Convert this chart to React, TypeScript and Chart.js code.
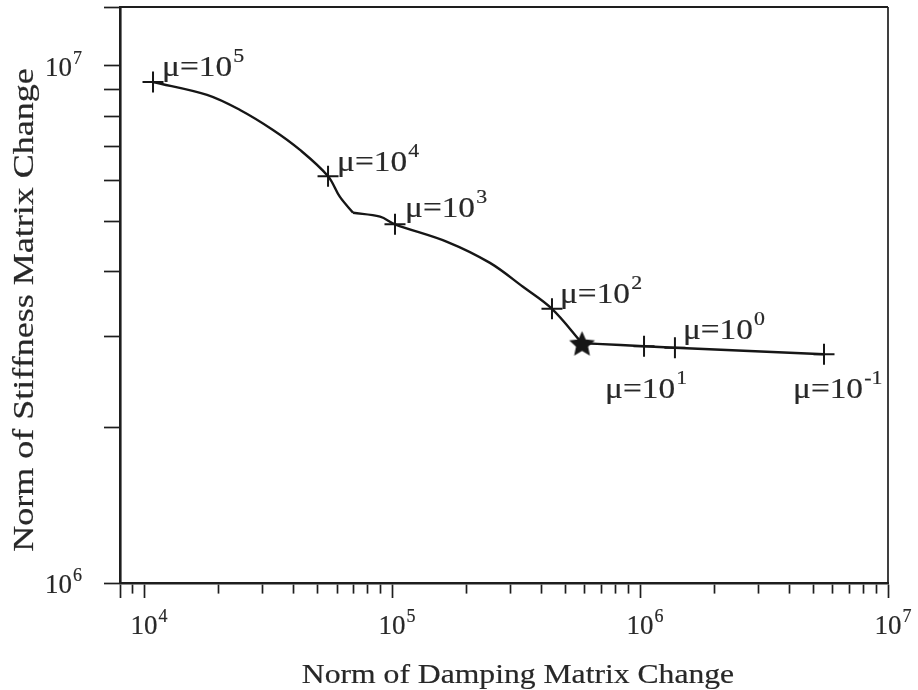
import React, { useEffect, useRef } from 'react';
import { Chart, registerables } from 'chart.js';

Chart.register(...registerables);

// ---- data ----
const curveX = [10870, 17950, 24380, 33110, 42560, 55210, 61660, 69660, 89510, 102800, 166700, 248300, 337300, 441600, 583600, 671400, 1038000, 1383000, 5520000];
const curveY = [9.31e6, 8.79e6, 8.22e6, 7.52e6, 6.88e6, 6.12e6, 5.58e6, 5.2e6, 5.11e6, 4.94e6, 4.57e6, 4.16e6, 3.74e6, 3.39e6, 2.91e6, 2.9e6, 2.87e6, 2.85e6, 2.77e6];
// indices where the curve has a corner (kink at ~7e4, optimum star)
const curveCorners = [7, 14];

const muX = [10870, 55210, 102800, 441600, 1038000, 1383000, 5520000];
const muY = [9.31e6, 6.12e6, 4.94e6, 3.39e6, 2.87e6, 2.85e6, 2.77e6];
const muExponents = ['5', '4', '3', '2', '1', '0', '-1'];

const optimumX = [583600];
const optimumY = [2.91e6];

const xMin = 8000;
const xMax = 1e7;
const yMin = 1e6;
const yMax = 1.3e7;

const xTickValues = [8e3, 9e3, 1e4, 2e4, 3e4, 4e4, 5e4, 6e4, 7e4, 8e4, 9e4, 1e5, 2e5, 3e5, 4e5, 5e5, 6e5, 7e5, 8e5, 9e5, 1e6, 2e6, 3e6, 4e6, 5e6, 6e6, 7e6, 8e6, 9e6, 1e7];
const yTickValues = [1e6, 2e6, 3e6, 4e6, 5e6, 6e6, 7e6, 8e6, 9e6, 1e7, 1.3e7];
const xLabelValues = [1e4, 1e5, 1e6, 1e7];
const yLabelValues = [1e6, 1e7];

const xTitle = 'Norm of Damping Matrix Change';
const yTitle = 'Norm of Stiffness Matrix Change';

// ---- styling ----
const LINE = '#161616';
const FRAME = '#1e1e1e';
const TEXT = '#282828';
const FONT = '"Liberation Serif", "Times New Roman", serif';
const TEXT_STROKE = 0.2;

// label offsets (px) from each μ marker: [dx to text start, dy to baseline]
const muLabelOffsets = [[9, -6], [9, -5], [10, -7], [8, -6], [-39, 52], [8, -9], [-31, 44]];

function isMajor(v: number) {
  const l = Math.log10(v);
  return Math.abs(l - Math.round(l)) < 1e-9;
}

function makeStar(r: number) {
  const c = document.createElement('canvas');
  const s = Math.ceil(2 * r + 2);
  c.width = s;
  c.height = s;
  const g = c.getContext('2d') as CanvasRenderingContext2D;
  g.fillStyle = LINE;
  g.beginPath();
  for (let i = 0; i < 10; i++) {
    const rad = i % 2 === 0 ? r : r * 0.47;
    const a = -Math.PI / 2 + (i * Math.PI) / 5;
    g.lineTo(s / 2 + rad * Math.cos(a), s / 2 + 1.5 + rad * Math.sin(a));
  }
  g.closePath();
  g.fill();
  return c;
}

type PowOpts = { base: string; size: number; sup: number; rise: number; sx: number; gap: number };

function powWidth(ctx: CanvasRenderingContext2D, o: PowOpts) {
  ctx.font = `${o.size}px ${FONT}`;
  return ctx.measureText(o.base).width * o.sx;
}

function fillBold(ctx: CanvasRenderingContext2D, s: string, x: number, y: number) {
  ctx.fillText(s, x, y);
  ctx.strokeText(s, x, y);
}

function drawPow(ctx: CanvasRenderingContext2D, x: number, y: number, exp: string, o: PowOpts) {
  ctx.save();
  ctx.translate(x, y);
  ctx.scale(o.sx, 1);
  ctx.fillStyle = TEXT;
  ctx.strokeStyle = TEXT;
  ctx.lineWidth = TEXT_STROKE;
  ctx.textAlign = 'left';
  ctx.textBaseline = 'alphabetic';
  ctx.font = `${o.size}px ${FONT}`;
  fillBold(ctx, o.base, 0, 0);
  const w = ctx.measureText(o.base).width;
  ctx.font = `${o.sup}px ${FONT}`;
  fillBold(ctx, exp, w + o.gap, -o.rise);
  ctx.restore();
}

const tickLabel: PowOpts = { base: '10', size: 27, sup: 18, rise: 12, sx: 1.0, gap: 1 };
const muLabel: PowOpts = { base: 'μ=10', size: 29, sup: 19, rise: 14, sx: 1.15, gap: 1 };

const annotations = {
  id: 'annotations',
  afterDraw(chart: any) {
    const { ctx, chartArea: ca, scales } = chart;
    const xs = scales.x;
    const ys = scales.y;
    ctx.save();

    // top and right frame
    const top = ys.getPixelForValue(yMax);
    const right = xs.getPixelForValue(xMax);
    ctx.strokeStyle = FRAME;
    ctx.lineWidth = 2;
    ctx.beginPath();
    ctx.moveTo(ca.left, top);
    ctx.lineTo(right, top);
    ctx.stroke();
    ctx.lineWidth = 1.7;
    ctx.beginPath();
    ctx.moveTo(right, top);
    ctx.lineTo(right, ca.bottom);
    ctx.stroke();

    // x decade labels
    xLabelValues.forEach((v) => {
      const px = xs.getPixelForValue(v);
      const w = powWidth(ctx, tickLabel);
      drawPow(ctx, px - w / 2, ca.bottom + 51, String(Math.round(Math.log10(v))), tickLabel);
    });
    // y decade labels
    yLabelValues.forEach((v) => {
      const py = ys.getPixelForValue(v);
      const w = powWidth(ctx, tickLabel);
      drawPow(ctx, ca.left - 48 - w, py + 10, String(Math.round(Math.log10(v))), tickLabel);
    });

    // axis titles
    ctx.fillStyle = TEXT;
    ctx.strokeStyle = TEXT;
    ctx.lineWidth = TEXT_STROKE;
    ctx.textBaseline = 'alphabetic';
    ctx.textAlign = 'center';
    ctx.save();
    ctx.translate((ca.left + ca.right) / 2 + 14, ca.bottom + 100);
    ctx.scale(1.13, 1);
    ctx.font = `28px ${FONT}`;
    fillBold(ctx, xTitle, 0, 0);
    ctx.restore();

    ctx.save();
    ctx.translate(33, (ca.top + ca.bottom) / 2 + 15);
    ctx.rotate(-Math.PI / 2);
    ctx.scale(1.2, 1);
    ctx.font = `30px ${FONT}`;
    fillBold(ctx, yTitle, 0, 0);
    ctx.restore();

    // μ labels
    muX.forEach((v, i) => {
      const px = xs.getPixelForValue(v);
      const py = ys.getPixelForValue(muY[i]);
      const [dx, dy] = muLabelOffsets[i];
      drawPow(ctx, px + dx, py + dy, muExponents[i], muLabel);
    });

    ctx.restore();
  },
};

function curveSegments() {
  const cuts = [0, ...curveCorners, curveX.length - 1];
  const segs: { x: number; y: number }[][] = [];
  for (let k = 0; k < cuts.length - 1; k++) {
    const seg: { x: number; y: number }[] = [];
    for (let i = cuts[k]; i <= cuts[k + 1]; i++) seg.push({ x: curveX[i], y: curveY[i] });
    segs.push(seg);
  }
  return segs;
}

export default function App() {
  const ref = useRef<HTMLCanvasElement | null>(null);

  useEffect(() => {
    if (!ref.current) return;
    const star = makeStar(13.5);
    const lineSets = curveSegments().map((seg, k) => ({
      label: 'L-curve ' + k,
      data: seg,
      showLine: true,
      borderColor: LINE,
      borderWidth: 2.4,
      pointRadius: 0,
      tension: 0.35,
      fill: false,
      clip: false,
      order: 3,
    }));
    const chart = new Chart(ref.current, {
      type: 'scatter',
      data: {
        datasets: [
          ...(lineSets as any[]),
          {
            label: 'mu',
            data: muX.map((x, i) => ({ x, y: muY[i] })),
            showLine: false,
            pointStyle: 'cross',
            pointRadius: 10.5,
            pointBorderColor: LINE,
            pointBorderWidth: 2,
            borderColor: LINE,
            clip: false,
            order: 2,
          } as any,
          {
            label: 'optimum',
            data: optimumX.map((x, i) => ({ x, y: optimumY[i] })),
            showLine: false,
            pointStyle: star,
            pointRadius: 13.5,
            clip: false,
            order: 1,
          } as any,
        ],
      },
      options: {
        animation: false,
        responsive: false,
        events: [],
        layout: { autoPadding: false, padding: { top: 7, right: 30, left: 0, bottom: 0 } },
        plugins: { legend: { display: false }, tooltip: { enabled: false } },
        scales: {
          x: {
            type: 'logarithmic',
            min: xMin,
            max: xMax,
            afterBuildTicks: (s: any) => {
              s.ticks = xTickValues.map((value) => ({ value }));
            },
            afterFit: (s: any) => {
              s.height = 107;
            },
            ticks: { display: false },
            grid: {
              display: true,
              drawOnChartArea: false,
              drawTicks: true,
              tickLength: 15,
              tickWidth: 1.7,
              tickColor: FRAME,
              tickBorderDash: (c: any) =>
                c.tick && (isMajor(c.tick.value) || c.tick.value === xMin) ? [] : [9, 40],
            },
            border: { display: true, color: FRAME, width: 2.6 },
          } as any,
          y: {
            type: 'logarithmic',
            min: yMin,
            max: yMax,
            afterBuildTicks: (s: any) => {
              s.ticks = yTickValues.map((value) => ({ value }));
            },
            afterFit: (s: any) => {
              s.width = 120;
            },
            ticks: { display: false },
            grid: {
              display: true,
              drawOnChartArea: false,
              drawTicks: true,
              tickLength: 16,
              tickWidth: 1.7,
              tickColor: FRAME,
            },
            border: { display: true, color: FRAME, width: 2.6 },
          } as any,
        },
      },
      plugins: [annotations],
    });
    return () => chart.destroy();
  }, []);

  return (
    <div style={{ position: 'fixed', left: 0, top: 0, width: 918, height: 690, background: '#fff' }}>
      <canvas ref={ref} width={918} height={690} style={{ display: 'block' }} />
    </div>
  );
}
